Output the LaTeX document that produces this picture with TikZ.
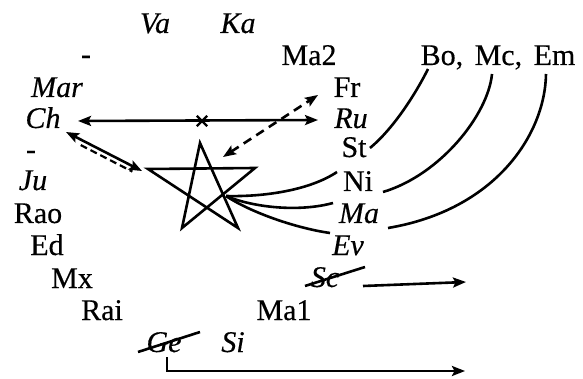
\documentclass[tikz,border=0pt]{standalone}
\usepackage{fontspec}
\setmainfont{Liberation Serif}[FakeBold=0.4]
\usetikzlibrary{arrows.meta,shapes.misc,calc}
\begin{document}
\begin{tikzpicture}[x=1pt,y=-1pt,
  lbl/.style={anchor=base, inner sep=0pt, font=\fontsize{30}{34}\selectfont},
  ilbl/.style={anchor=base, inner sep=0pt, font=\fontsize{30}{34}\selectfont\itshape},
  ln/.style={line width=2.6pt},
  tip/.style={-{Stealth[length=13pt,width=10pt,inset=2.5pt]}},
  tips/.style={{Stealth[length=13pt,width=10pt,inset=2.5pt]}-{Stealth[length=13pt,width=10pt,inset=2.5pt]}},
  dsh/.style={dash pattern=on 9pt off 6pt}
]
\useasboundingbox (0,0) rectangle (583,379);
% labels
\node[ilbl] (va) at (155,33) {Va};
\node[ilbl] (ka) at (238,33) {Ka};
\node[lbl] (d1) at (86,64) {-};
\node[lbl] (ma2) at (309,65) {Ma2};
\node[lbl] (bme) at (498,65) {Bo,\hspace{4pt} Mc,\hspace{4pt} Em};
\node[ilbl] (mar) at (57,97) {Mar};
\node[ilbl] (ch) at (43,128) {Ch};
\node[lbl] (d2) at (31,159) {-};
\node[ilbl] (ju) at (33,190) {Ju};
\node[lbl] (rao) at (38,223) {Rao};
\node[lbl] (ed) at (47,255) {Ed};
\node[lbl] (mx) at (72,288) {Mx};
\node[lbl] (rai) at (102,320) {Rai};
\node[lbl] (ma1) at (284,320) {Ma1};
\node[ilbl] (ge) at (164,352) {Ge};
\node[ilbl] (si) at (233,352) {Si};
\node[lbl] (fr) at (347,97) {Fr};
\node[ilbl] (ru) at (351,128) {Ru};
\node[lbl] (st) at (354,157) {St};
\node[lbl] (ni) at (358,191) {Ni};
\node[ilbl] (ma) at (359,223) {Ma};
\node[ilbl] (ev) at (348,255) {Ev};
\node[ilbl] (sc) at (325,287) {Sc};
% star
\coordinate (sT) at (200,143);
\coordinate (sL) at (148,169);
\coordinate (sR) at (255,168);
\coordinate (sBL) at (182,228);
\coordinate (sBR) at (238,228);
\coordinate (sJ) at (226,196);
\draw[ln, line join=miter] (sT) -- (sBL) -- (sR) -- (sL) -- (sBR) -- cycle;
% horizontal double arrow Ch <-> Ru
\coordinate (hL) at (78,121);
\coordinate (hR) at (318,120);
\draw[ln, tips] (hL) -- (hR);
\node[draw, cross out, line width=2.4pt, minimum size=8pt, inner sep=0pt] (xm) at (202,121) {};
% dashed Fr <-> star
\coordinate (dA) at (223,157);
\coordinate (dB) at (318,95);
\draw[ln, dsh, tips] (dA) -- (dB);
% Ch <-> star
\coordinate (cA) at (66,132);
\coordinate (cB) at (142,171);
\draw[ln, tips] (cA) -- (cB);
\draw[line width=2.2pt, dash pattern=on 7pt off 4pt] ($(cA)!0.22!(cB)+(-2,4.5)$) -- ($(cA)!0.9!(cB)+(-2,4.5)$);
% star to St-column names
\coordinate (eNi) at (337,172);
\coordinate (eMa) at (333,203);
\coordinate (eEv) at (330,233);
\draw[ln] (sJ) .. controls (265,197) and (310,190) .. (eNi);
\draw[ln] (sJ) .. controls (255,208) and (300,212) .. (eMa);
\draw[ln] (sJ) .. controls (250,212) and (295,228) .. (eEv);
% long curves to Bo, Mc, Em
\coordinate (bSt) at (370,148);
\coordinate (bBo) at (428,69);
\coordinate (bNi) at (383,192);
\coordinate (bMc) at (492,74);
\coordinate (bMa) at (388,228);
\coordinate (bEm) at (546,74);
\draw[ln] (bSt) .. controls (393,129) and (415,95) .. (bBo);
\draw[ln] (bNi) .. controls (440,175) and (488,115) .. (bMc);
\draw[ln] (bMa) .. controls (495,210) and (545,135) .. (bEm);
% strikes
\draw[ln] (305,286) -- (365,267);
\draw[ln] (138,352) -- (200,332);
% Sc arrow
\coordinate (scA) at (363,286);
\coordinate (scB) at (466,282);
\draw[ln, tip] (scA) -- (scB);
% bottom L arrow
\coordinate (gA) at (167,357);
\coordinate (gB) at (465,371);
\draw[ln, tip] (gA) |- (gB);
\end{tikzpicture}
\end{document}
